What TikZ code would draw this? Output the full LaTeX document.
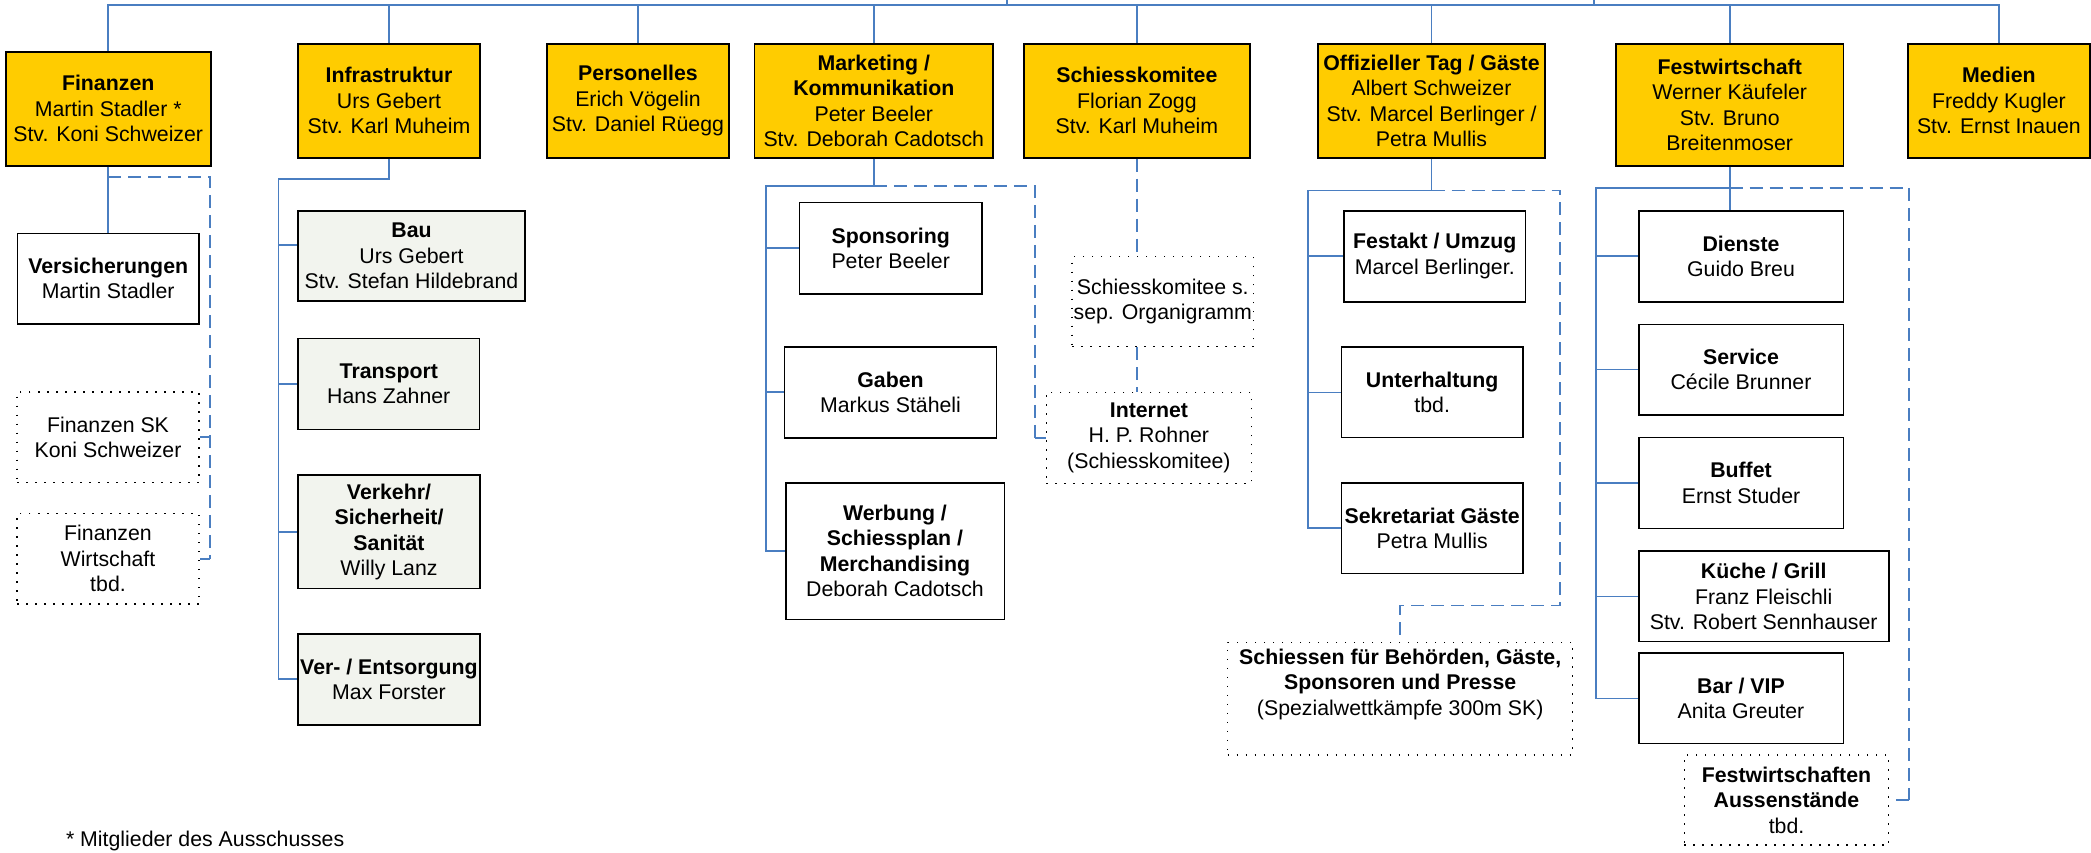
\documentclass[tikz,border=0pt]{standalone}
\usepackage{fontspec}
\setmainfont{Liberation Sans}
\usepackage{tikz}
\usepackage{xcolor}
\definecolor{amtgelb}{RGB}{255,204,0}
\definecolor{infragrau}{RGB}{242,244,238}
\definecolor{linie}{RGB}{74,126,193}

\begin{document}
\begin{tikzpicture}[x=1pt,y=-1pt,
  font=\fontsize{21.3}{25.5}\selectfont,
  wh/.style 2 args={minimum width=#1pt,minimum height=#2pt},
  amt/.style={draw=black,line width=1.6pt,fill=amtgelb,align=center,inner sep=0pt},
  stelle/.style={amt,fill=white},
  infra/.style={amt,fill=infragrau},
  extern/.style={draw=black,line width=1.5pt,dash pattern=on 1.5pt off 7.5pt,align=center,inner sep=0pt},
  conn/.style={draw=linie,line width=1.7pt},
  dconn/.style={conn,dash pattern=on 13pt off 7pt}]
\useasboundingbox (0,0) rectangle (2091,852);

 \node[amt,wh={205}{114}] (fin) at (108.2,108.7) {\textbf{Finanzen}\\Martin Stadler *\\Stv. Koni Schweizer};
 \node[amt,wh={182}{114}] (inf) at (389,100.7) {\textbf{Infrastruktur}\\Urs Gebert\\Stv. Karl Muheim};
 \node[amt,wh={182}{114}] (pers) at (638,100.7) {\textbf{Personelles}\\Erich Vögelin\\Stv. Daniel Rüegg};
 \node[amt,wh={238.5}{114}] (mkt) at (873.8,100.7) {\textbf{Marketing /}\\\textbf{Kommunikation}\\Peter Beeler\\Stv. Deborah Cadotsch};
 \node[amt,wh={226.3}{114}] (sk) at (1136.9,100.7) {\textbf{Schiesskomitee}\\Florian Zogg\\Stv. Karl Muheim};
 \node[amt,wh={227}{114}] (off) at (1431.5,100.7) {\textbf{Offizieller Tag / Gäste}\\Albert Schweizer\\Stv. Marcel Berlinger /\\Petra Mullis};
 \node[amt,wh={227.4}{122}] (fw) at (1729.7,104.7) {\textbf{Festwirtschaft}\\Werner Käufeler\\Stv. Bruno\\Breitenmoser};
 \node[amt,wh={181.7}{114}] (med) at (1998.9,100.7) {\textbf{Medien}\\Freddy Kugler\\Stv. Ernst Inauen};

 \node[stelle,wh={181.6}{90.5}] (vers) at (108.2,278.6) {\textbf{Versicherungen}\\Martin Stadler};
 \node[extern,wh={182}{90.5}] (finSK) at (108,437.3) {Finanzen SK\\Koni Schweizer};
 \node[extern,wh={182}{90.5}] (finWi) at (108,558.8) {Finanzen\\Wirtschaft\\tbd.};

 \node[infra,wh={227}{90.3}] (bau) at (411.5,255.9) {\textbf{Bau}\\Urs Gebert\\Stv. Stefan Hildebrand};
 \node[infra,wh={181.6}{91.2}] (trans) at (388.8,384) {\textbf{Transport}\\Hans Zahner};
 \node[infra,wh={182}{113.6}] (verk) at (389,531.8) {\textbf{Verkehr/}\\\textbf{Sicherheit/}\\\textbf{Sanität}\\Willy Lanz};
 \node[infra,wh={182}{90.8}] (ent) at (389,679.3) {\textbf{Ver- / Entsorgung}\\Max Forster};

 \node[stelle,wh={182.2}{91.3}] (spon) at (890.7,248.3) {\textbf{Sponsoring}\\Peter Beeler};
 \node[stelle,wh={211.8}{91}] (gab) at (890.5,392.2) {\textbf{Gaben}\\Markus Stäheli};
 \node[stelle,wh={218.6}{136.6}] (werb) at (895,551) {\textbf{Werbung /}\\\textbf{Schiessplan /}\\\textbf{Merchandising}\\Deborah Cadotsch};

 \node[extern,wh={181.6}{90}] (skS) at (1162.8,301.7) {Schiesskomitee s.\\sep. Organigramm};
 \node[extern,wh={205}{91}] (inet) at (1148.9,437.8) {\textbf{Internet}\\H. P. Rohner\\(Schiesskomitee)};

 \node[stelle,wh={181.7}{91}] (fest) at (1434.8,256.2) {\textbf{Festakt / Umzug}\\Marcel Berlinger.};
 \node[stelle,wh={181.7}{90.4}] (unt) at (1432.2,392.4) {\textbf{Unterhaltung}\\tbd.};
 \node[stelle,wh={181.7}{90.4}] (sek) at (1432.2,528.2) {\textbf{Sekretariat Gäste}\\Petra Mullis};
 \node[extern,wh={345}{112.5}] (schB) at (1400.2,698.5) {\textbf{Schiessen für Behörden, Gäste,}\\\textbf{Sponsoren und Presse}\\(Spezialwettkämpfe 300m SK)\\\strut};

 \node[stelle,wh={204.6}{90.8}] (dien) at (1741,256.3) {\textbf{Dienste}\\Guido Breu};
 \node[stelle,wh={204.6}{90.5}] (serv) at (1741,369.6) {\textbf{Service}\\Cécile Brunner};
 \node[stelle,wh={204.6}{90.9}] (buf) at (1741,483) {\textbf{Buffet}\\Ernst Studer};
 \node[stelle,wh={250}{90.4}] (kue) at (1763.7,596.4) {\textbf{Küche / Grill}\\Franz Fleischli\\Stv. Robert Sennhauser};
 \node[stelle,wh={204.6}{90.5}] (barvip) at (1741,698.4) {\textbf{Bar / VIP}\\Anita Greuter};
 \node[extern,wh={204.4}{90}] (fwa) at (1786.5,800.2) {\textbf{Festwirtschaften}\\\textbf{Aussenstände}\\tbd.};

 \node[anchor=base west] (fussnote) at (62.5,846) {* Mitglieder des Ausschusses};

 \coordinate (topbar) at (0,5);
 \coordinate (up1) at (1007,0);
 \coordinate (up2) at (1594,0);
 \draw[conn] (fin.north) -- (fin.north |- topbar) -- (med.north |- topbar) -- (med.north);
 \foreach \n in {inf,pers,mkt,sk,off,fw} \draw[conn] (\n.north) -- (\n.north |- topbar);
 \draw[conn] (up1) -- (up1 |- topbar);
 \draw[conn] (up2) -- (up2 |- topbar);

 \coordinate (finD) at (210,176.7);
 \draw[conn] (fin.south) -- (vers.north);
 \draw[dconn] (fin.south |- finD) -- (finD) -- (finD |- finWi.east);
 \draw[dconn] (finD |- finSK.east) -- (finSK.east);
 \draw[dconn] (finD |- finWi.east) -- (finWi.east);

 \coordinate (infJ) at (278.6,179.3);
 \path (bau.west) ++(0,-11) coordinate (bauA);
 \draw[conn] (inf.south) |- (infJ) -- (infJ |- ent.west) -- (ent.west);
 \draw[conn] (infJ |- bauA) -- (bauA);
 \foreach \n in {trans,verk} \draw[conn] (infJ |- \n.west) -- (\n.west);

 \coordinate (mktJ) at (766,186);
 \coordinate (mktD) at (1035,186);
 \draw[conn] (mkt.south) |- (mktJ) -- (mktJ |- werb.west) -- (werb.west);
 \foreach \n in {spon,gab} \draw[conn] (mktJ |- \n.west) -- (\n.west);
 \draw[dconn] (mkt.south |- mktJ) -- (mktD) -- (mktD |- inet.west);
 \draw[dconn] (mktD |- inet.west) -- (inet.west);

 \draw[dconn] (sk.south) -- (sk.south |- skS.north);
 \draw[dconn] (sk.south |- skS.south) -- (sk.south |- inet.north);

 \coordinate (offJ) at (1308.3,190.5);
 \coordinate (offD) at (1560,190.5);
 \coordinate (offE) at (1560,605.6);
 \draw[conn] (off.south) |- (offJ) -- (offJ |- sek.west) -- (sek.west);
 \foreach \n in {fest,unt} \draw[conn] (offJ |- \n.west) -- (\n.west);
 \draw[dconn] (off.south |- offJ) -- (offD) -- (offE) -| (schB.north);

 \coordinate (fwJ) at (1595.7,188);
 \coordinate (fwD) at (1909.3,188);
 \draw[conn] (fw.south) -- (fw.south |- dien.north);
 \draw[conn] (fw.south |- fwJ) -- (fwJ) -- (fwJ |- barvip.west) -- (barvip.west);
 \foreach \n in {dien,serv,buf,kue} \draw[conn] (fwJ |- \n.west) -- (\n.west);
 \draw[dconn] (fw.south |- fwJ) -- (fwD) -- (fwD |- fwa.east);
 \draw[dconn] (fwD |- fwa.east) -- (fwa.east);
\end{tikzpicture}
\end{document}
